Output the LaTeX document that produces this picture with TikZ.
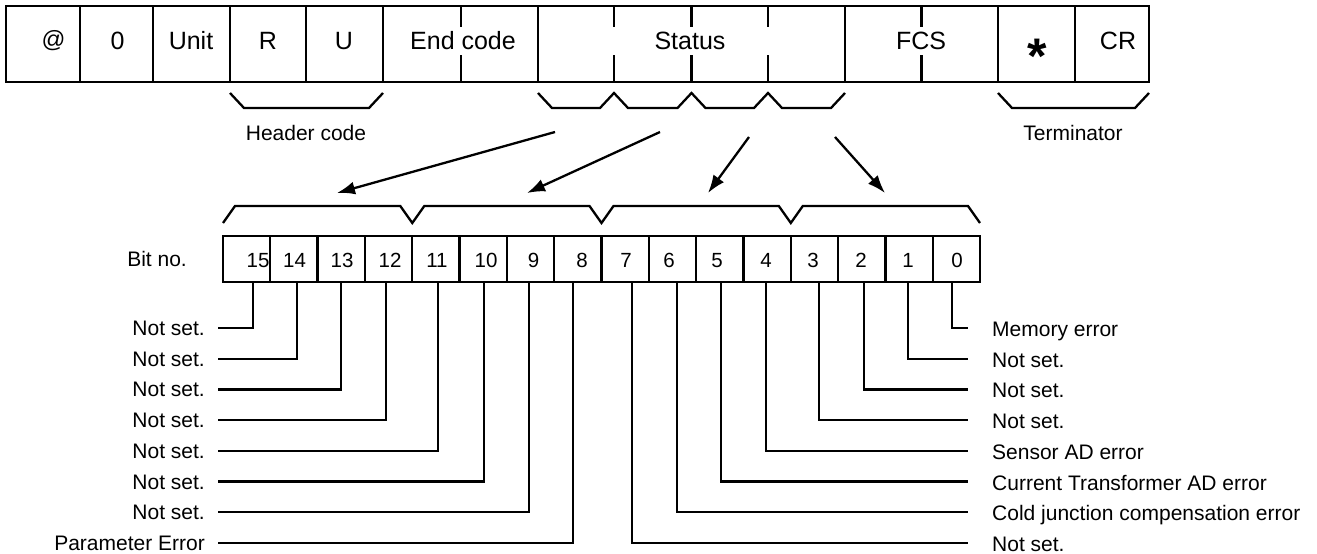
\documentclass[tikz,border=0pt]{standalone}
\usepackage{fontspec}
\setmainfont{Liberation Sans}
\usetikzlibrary{arrows.meta}
\begin{document}
\begin{tikzpicture}[x=1pt,y=-1pt,
  ln/.style={line width=2.3pt, line join=miter},
  cell/.style={draw, line width=2.3pt, inner sep=0pt, outer sep=0pt, minimum height=76pt},
  bitcell/.style={draw, line width=2.3pt, inner sep=0pt, outer sep=0pt, minimum width=47.31pt, minimum height=46pt},
  toptxt/.style={font=\fontsize{25}{30}\selectfont, inner sep=0pt, anchor=base},
  lbl/.style={font=\fontsize{21}{25}\selectfont, inner sep=0pt},
  bittxt/.style={font=\fontsize{20.5}{24}\selectfont, inner sep=0pt, anchor=base},
  arr/.style={line width=2.3pt, -{Latex[length=18pt,width=13pt]}},
]
\useasboundingbox[fill=white] (0,0) rectangle (1317,554);

% ---- top frame cells
\node[cell, minimum width=74pt]  (cAt)   at (43,44)     {};
\node[cell, minimum width=73pt]  (cZero) at (116.5,44)  {};
\node[cell, minimum width=77pt]  (cUnit) at (191.5,44)  {};
\node[cell, minimum width=76pt]  (cR)    at (268,44)    {};
\node[cell, minimum width=77pt]  (cU)    at (344.5,44)  {};
\node[cell, minimum width=155pt] (cEnd)  at (460.5,44)  {};
\node[cell, minimum width=307pt] (cStat) at (691.5,44)  {};
\node[cell, minimum width=153pt] (cFCS)  at (921.5,44)  {};
\node[cell, minimum width=77pt]  (cStar) at (1036.5,44) {};
\node[cell, minimum width=74pt]  (cCR)   at (1112,44)   {};
\foreach \x in {461,614,691.5,768,921.5}{
  \draw[ln] (\x,6) -- (\x,27);
  \draw[ln] (\x,55) -- (\x,82);
}
% ---- top texts
\node[toptxt, font=\fontsize{23.5}{28}\selectfont] (tAt) at (53.5,47.5) {@};
\node[toptxt] (tZero) at (117.5,49.5) {0};
\node[toptxt] (tUnit) at (191,49.5) {Unit};
\node[toptxt] (tR)    at (268,49.5) {R};
\node[toptxt] (tU)    at (344,49.5) {U};
\node[toptxt] (tEnd)  at (463,49.5) {End code};
\node[toptxt] (tStat) at (690,49.5) {Status};
\node[toptxt] (tFCS)  at (921,49.5) {FCS};
\node[toptxt, font=\fontsize{50}{55}\selectfont\bfseries] (tStar) at (1037,73) {*};
\node[toptxt] (tCR)   at (1118,49.5) {CR};

% ---- brackets under the top frame
\draw[ln] (230,93) -- (244,108) -- (369,108) -- (383,93);
\draw[ln] (538,93) -- (552,108) -- (600,108) -- (614,93) -- (628,108) -- (677.5,108)
  -- (691.5,93) -- (705.5,108) -- (754,108) -- (768,93) -- (782,108) -- (831,108) -- (845,93);
\draw[ln] (998,93) -- (1012,108) -- (1135,108) -- (1149,93);
\node[lbl, anchor=base] (hdr)  at (306,140)  {Header code};
\node[lbl, anchor=base] (term) at (1073,140) {Terminator};

% ---- arrows
\coordinate (as1) at (555,132); \coordinate (ae1) at (337,193);
\coordinate (as2) at (660,132); \coordinate (ae2) at (527,193);
\coordinate (as3) at (749,137); \coordinate (ae3) at (708,193);
\coordinate (as4) at (835,137); \coordinate (ae4) at (885,193);
\foreach \k in {1,2,3,4}{ \draw[arr] (as\k) -- (ae\k); }

% ---- lower bracket
\draw[ln] (223,223) -- (235,206) -- (400.3,206) -- (412.3,223) -- (424.3,206)
  -- (589.5,206) -- (601.5,223) -- (613.5,206) -- (778.8,206) -- (790.8,223)
  -- (802.8,206) -- (968,206) -- (980,223);

% ---- bit cells
\foreach \i in {0,...,15}{
  \pgfmathtruncatemacro{\b}{15-\i}
  \node[bitcell] (bit\b) at ({223+47.3125*(\i+0.5)},259) {};
}
\node[lbl, anchor=base east] (bitno) at (187,266.5) {Bit no.};
\foreach \b/\x in {15/258,14/294.5,13/342,12/390,11/437,10/486,9/533.5,8/582,
                   7/626,6/669,5/717,4/766,3/813,2/861,1/908,0/957}{
  \node[bittxt] (n\b) at (\x,267) {\b};
}

% ---- drop points
\foreach \b/\x in {15/253,14/297,13/341,12/386,11/438,10/484,9/529,8/573,
                   7/632,6/677,5/721,4/766,3/819,2/864,1/908,0/952}{
  \coordinate (p\b) at (\x,282);
}
% ---- row ends
\foreach \k in {0,...,7}{
  \coordinate (eL\k) at (218,{328+30.7*\k});
  \coordinate (eR\k) at (968,{328+30.7*\k});
}
% left labels
\foreach \k/\t in {0/Not set.,1/Not set.,2/Not set.,3/Not set.,4/Not set.,5/Not set.,6/Not set.,7/Parameter Error}{
  \node[lbl, anchor=base east] (L\k) at (205,{335.5+30.7*\k}) {\t};
  \pgfmathtruncatemacro{\b}{15-\k}
  \draw[ln] (p\b) |- (eL\k);
}
% right labels
\foreach \k/\t in {0/Memory error,1/Not set.,2/Not set.,3/Not set.,4/Sensor AD error,
  5/Current Transformer AD error,6/Cold junction compensation error,7/Not set.}{
  \node[lbl, anchor=base west] (R\k) at (992,{336.5+30.7*\k}) {\t};
  \draw[ln] (p\k) |- (eR\k);
}
\end{tikzpicture}
\end{document}
